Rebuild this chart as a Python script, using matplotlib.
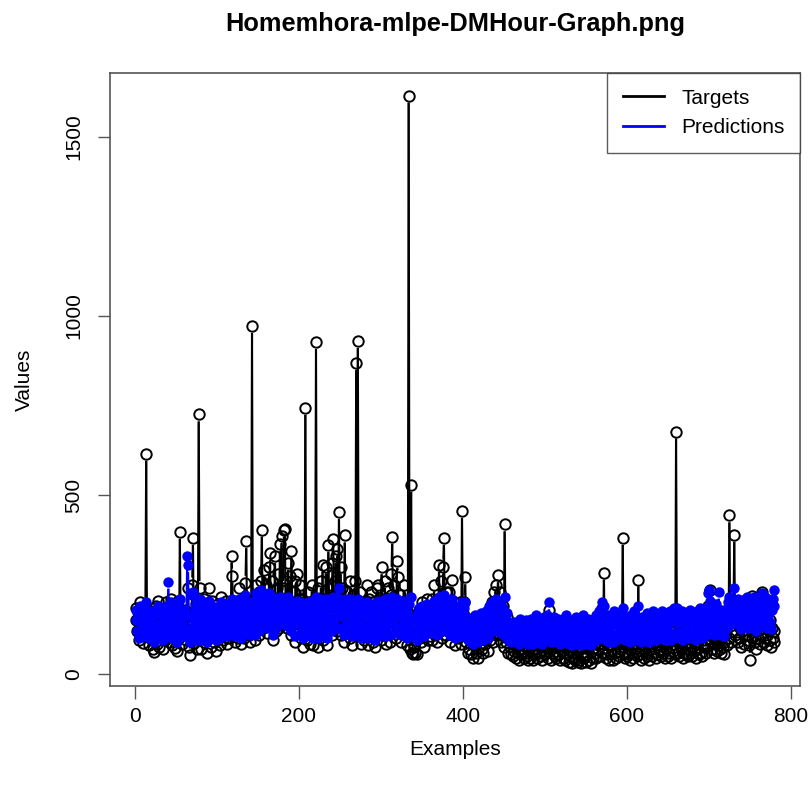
import numpy as np
import matplotlib
matplotlib.use("Agg")
import matplotlib.pyplot as plt
from matplotlib.collections import LineCollection
from matplotlib.lines import Line2D

plt.rcParams['font.family'] = ['Liberation Sans', 'DejaVu Sans']

# observed hourly values
targets = [
    150, 185, 120, 172, 95, 160, 200, 110, 145, 88, 178, 130, 190, 615, 105, 160, 82, 140, 175, 98,
    125, 70, 150, 62, 110, 190, 85, 205, 130, 75, 165, 100, 180, 120, 70, 150, 95, 200, 115, 140,
    170, 90, 135, 210, 80, 150, 115, 188, 72, 160, 65, 140, 205, 100, 397, 130, 175, 85, 150, 115,
    180, 95, 160, 120, 240, 75, 52, 150, 100, 250, 380, 88, 170, 120, 195, 70, 145, 725, 240, 110,
    70, 165, 120, 210, 90, 185, 140, 60, 160, 100, 240, 130, 75, 205, 110, 170, 90, 150, 65, 130,
    195, 105, 160, 80, 215, 130, 175, 95, 150, 120, 205, 85, 180, 140, 100, 170, 125, 331, 275, 110,
    160, 90, 200, 130, 175, 100, 240, 150, 85, 190, 120, 210, 100, 160, 255, 371, 130, 200, 110, 170,
    90, 175, 972, 120, 210, 155, 95, 250, 140, 185, 110, 230, 150, 260, 403, 130, 200, 290, 160, 250,
    115, 220, 175, 300, 338, 140, 260, 95, 210, 170, 329, 120, 240, 180, 280, 130, 362, 200, 385, 150,
    240, 403, 405, 190, 260, 130, 310, 170, 275, 110, 345, 200, 150, 230, 90, 260, 180, 280, 140, 210,
    160, 250, 100, 210, 75, 200, 140, 743, 180, 95, 230, 130, 200, 85, 160, 250, 80, 170, 120, 210,
    927, 140, 240, 75, 180, 110, 260, 150, 305, 95, 210, 170, 300, 120, 80, 360, 200, 140, 250, 110,
    310, 377, 150, 260, 330, 120, 350, 200, 452, 170, 300, 110, 240, 180, 90, 387, 200, 140, 230, 120,
    200, 100, 260, 150, 80, 220, 130, 260, 170, 868, 110, 930, 190, 140, 230, 85, 160, 120, 200, 95,
    180, 120, 250, 80, 170, 210, 110, 230, 140, 90, 200, 130, 75, 160, 240, 110, 250, 150, 200, 95,
    298, 150, 210, 110, 260, 85, 200, 130, 240, 160, 90, 220, 280, 383, 130, 250, 170, 100, 200, 315,
    270, 120, 220, 160, 90, 200, 130, 250, 110, 190, 150, 80, 170, 1615, 120, 70, 528, 60, 55, 75,
    80, 60, 120, 55, 150, 100, 180, 130, 90, 200, 110, 160, 75, 170, 120, 210, 95, 150, 190, 105,
    160, 95, 210, 130, 250, 110, 170, 90, 200, 140, 305, 120, 260, 180, 100, 300, 380, 150, 230, 110,
    190, 120, 230, 90, 170, 140, 263, 110, 200, 80, 150, 120, 180, 100, 160, 130, 200, 85, 455, 170,
    120, 200, 270, 90, 150, 60, 110, 70, 130, 55, 95, 45, 120, 80, 140, 60, 100, 45, 130, 75,
    110, 150, 70, 130, 60, 120, 85, 160, 100, 140, 65, 180, 95, 150, 120, 200, 90, 230, 140, 250,
    110, 200, 276, 130, 230, 90, 170, 110, 190, 75, 418, 130, 90, 160, 60, 120, 75, 100, 55, 90,
    50, 110, 65, 90, 45, 100, 60, 85, 40, 120, 55, 70, 95, 45, 80, 60, 105, 50, 75, 40,
    95, 45, 110, 60, 80, 40, 100, 55, 120, 70, 45, 90, 60, 105, 50, 85, 40, 75, 110, 55,
    90, 60, 120, 45, 178, 70, 100, 40, 85, 60, 110, 50, 95, 45, 75, 100, 55, 80, 40, 90,
    65, 100, 45, 85, 40, 110, 55, 75, 35, 90, 50, 70, 30, 95, 45, 80, 40, 105, 60, 35,
    85, 40, 70, 30, 95, 50, 110, 45, 80, 35, 75, 55, 100, 40, 85, 30, 65, 90, 45, 100,
    60, 110, 45, 90, 70, 120, 50, 130, 85, 160, 60, 283, 100, 45, 90, 55, 110, 40, 80, 105,
    55, 95, 40, 120, 60, 100, 45, 85, 65, 110, 50, 90, 70, 115, 380, 60, 95, 45, 80, 50,
    100, 55, 90, 40, 110, 60, 85, 45, 120, 70, 95, 50, 100, 264, 55, 90, 40, 105, 65, 85,
    45, 100, 60, 115, 50, 85, 40, 110, 70, 95, 50, 120, 60, 90, 45, 80, 100, 55, 110, 65,
    95, 50, 120, 60, 85, 45, 110, 70, 100, 50, 90, 60, 120, 45, 105, 65, 95, 130, 55, 677,
    150, 60, 110, 50, 95, 70, 120, 45, 100, 60, 85, 55, 115, 50, 90, 70, 125, 60, 95, 50,
    110, 65, 100, 45, 120, 70, 90, 55, 130, 60, 105, 50, 115, 75, 95, 60, 130, 80, 190, 110,
    235, 90, 130, 70, 110, 60, 120, 85, 140, 65, 105, 95, 70, 100, 60, 125, 75, 90, 55, 110,
    130, 80, 180, 100, 443, 150, 90, 200, 120, 170, 389, 110, 200, 140, 90, 160, 100, 130, 75, 150,
    120, 190, 85, 160, 110, 200, 95, 150, 80, 40, 140, 100, 219, 130, 180, 90, 120, 70, 150, 100,
    160, 85, 200, 110, 228, 130, 90, 170, 100, 140, 80, 200, 120, 95, 150, 75, 130, 100, 90, 120,
]

# model output for the same hours
predictions = [
    150, 180, 120, 165, 100, 150, 190, 125, 160, 105, 175, 135, 185, 200, 120, 165, 100, 145, 175, 110,
    140, 95, 165, 90, 130, 180, 105, 190, 140, 100, 170, 120, 175, 135, 95, 160, 115, 190, 130, 150,
    258, 110, 150, 200, 100, 160, 130, 185, 95, 165, 90, 150, 195, 115, 210, 140, 175, 105, 160, 125,
    180, 110, 165, 331, 305, 100, 90, 160, 120, 220, 230, 105, 170, 135, 190, 95, 150, 200, 210, 125,
    95, 170, 130, 200, 105, 180, 145, 90, 165, 115, 205, 140, 100, 190, 125, 170, 105, 155, 95, 140,
    185, 120, 165, 100, 200, 140, 175, 110, 155, 130, 195, 105, 180, 145, 115, 170, 135, 210, 185, 125,
    165, 105, 195, 140, 175, 115, 210, 155, 100, 185, 130, 200, 115, 165, 220, 205, 140, 190, 120, 170,
    110, 175, 200, 135, 200, 160, 110, 225, 145, 180, 120, 210, 155, 235, 190, 140, 195, 220, 165, 200,
    130, 205, 170, 225, 190, 145, 215, 110, 195, 165, 175, 130, 210, 170, 200, 140, 215, 185, 205, 155,
    195, 210, 185, 170, 200, 135, 215, 160, 190, 120, 200, 175, 145, 195, 105, 185, 165, 205, 140, 190,
    155, 200, 115, 185, 100, 180, 140, 195, 170, 110, 200, 135, 180, 105, 160, 205, 100, 165, 130, 190,
    215, 140, 200, 100, 170, 125, 210, 150, 190, 110, 185, 160, 210, 130, 100, 200, 175, 140, 205, 120,
    200, 215, 150, 200, 210, 130, 215, 175, 240, 165, 200, 125, 195, 170, 110, 210, 180, 140, 195, 130,
    185, 115, 210, 150, 105, 190, 135, 205, 165, 200, 120, 210, 175, 140, 195, 100, 160, 125, 185, 110,
    170, 125, 200, 100, 165, 190, 120, 195, 140, 105, 185, 135, 95, 160, 200, 120, 205, 150, 185, 110,
    200, 150, 190, 120, 210, 105, 185, 135, 200, 160, 110, 190, 205, 215, 140, 200, 165, 115, 185, 210,
    200, 130, 190, 160, 110, 185, 135, 205, 120, 175, 150, 100, 165, 195, 135, 110, 215, 105, 110, 120,
    120, 100, 150, 95, 170, 125, 185, 140, 110, 190, 130, 165, 105, 175, 135, 195, 115, 155, 180, 125,
    165, 115, 195, 140, 205, 125, 170, 110, 190, 145, 215, 130, 200, 170, 120, 210, 220, 155, 195, 125,
    185, 130, 200, 110, 170, 145, 210, 125, 190, 100, 160, 130, 180, 115, 165, 140, 190, 105, 200, 165,
    130, 185, 200, 110, 160, 95, 140, 105, 155, 90, 130, 85, 150, 110, 165, 95, 135, 90, 155, 115,
    140, 170, 105, 155, 95, 150, 115, 175, 130, 165, 100, 190, 125, 170, 145, 200, 120, 205, 160, 210,
    135, 195, 205, 145, 200, 115, 175, 135, 185, 110, 215, 145, 115, 170, 95, 145, 105, 135, 90, 125,
    95, 145, 105, 130, 90, 140, 100, 125, 85, 155, 100, 115, 140, 90, 125, 105, 150, 95, 120, 85,
    140, 90, 155, 105, 125, 85, 150, 100, 165, 115, 90, 140, 105, 155, 95, 130, 85, 120, 160, 100,
    140, 105, 165, 95, 200, 115, 150, 90, 135, 110, 160, 100, 145, 90, 125, 155, 100, 130, 85, 140,
    115, 155, 95, 140, 90, 165, 105, 130, 85, 150, 100, 125, 80, 150, 95, 135, 90, 160, 110, 85,
    140, 90, 125, 80, 150, 100, 165, 95, 135, 85, 130, 105, 155, 90, 140, 80, 120, 150, 95, 155,
    110, 165, 95, 150, 120, 175, 100, 185, 135, 200, 110, 190, 150, 95, 145, 105, 165, 90, 135, 160,
    105, 150, 90, 175, 110, 155, 95, 140, 115, 165, 100, 145, 120, 170, 185, 110, 150, 95, 135, 100,
    155, 105, 145, 90, 165, 110, 140, 95, 175, 120, 150, 100, 155, 190, 105, 145, 90, 160, 115, 140,
    95, 155, 110, 170, 100, 140, 90, 165, 120, 150, 100, 175, 110, 145, 95, 135, 155, 105, 165, 115,
    150, 100, 175, 110, 140, 95, 165, 120, 155, 100, 145, 110, 175, 95, 160, 115, 150, 185, 105, 180,
    185, 110, 165, 100, 150, 120, 175, 95, 155, 110, 140, 105, 170, 100, 145, 120, 180, 110, 150, 100,
    165, 115, 155, 95, 175, 120, 145, 105, 185, 110, 160, 100, 170, 125, 150, 110, 185, 130, 225, 235,
    205, 140, 185, 120, 165, 110, 175, 135, 195, 115, 160, 230, 120, 155, 110, 180, 125, 145, 105, 165,
    180, 130, 200, 150, 215, 195, 140, 200, 170, 210, 240, 160, 200, 190, 140, 210, 150, 180, 125, 200,
    170, 205, 135, 210, 160, 215, 145, 200, 130, 175, 190, 150, 195, 180, 215, 140, 170, 120, 200, 150,
    210, 135, 215, 160, 225, 180, 140, 215, 150, 190, 130, 210, 170, 145, 200, 125, 180, 210, 235, 190,
]

examples = np.arange(1, len(targets) + 1)


def gapped_segments(ax, x, y, gap):
    # segments joining consecutive points, cut back by `gap` pixels at each end
    pts = ax.transData.transform(np.column_stack([x, y]))
    segs = []
    for p0, p1 in zip(pts[:-1], pts[1:]):
        d = p1 - p0
        n = np.hypot(*d)
        if n <= 2 * gap:
            continue
        u = d / n
        a, b = p0 + u * gap, p1 - u * gap
        segs.append(ax.transData.inverted().transform(np.array([a, b])))
    return segs


fig = plt.figure(figsize=(8.1, 7.9), dpi=100)
ax = fig.add_axes([0.1358, 0.1316, 0.8519, 0.776])

span_x = examples[-1] - examples[0]
ax.set_xlim(examples[0] - 0.04 * span_x, examples[-1] + 0.04 * span_x)
lo, hi = min(min(targets), min(predictions)), max(max(targets), max(predictions))
ax.set_ylim(lo - 0.04 * (hi - lo), hi + 0.04 * (hi - lo))

ax.add_collection(LineCollection(gapped_segments(ax, examples, targets, 7),
                                 colors='black', linewidths=1.5))
ax.plot(examples, targets, ls='none', marker='o', ms=7.5,
        mfc='none', mec='black', mew=1.4)
ax.add_collection(LineCollection(gapped_segments(ax, examples, predictions, 7),
                                 colors='blue', linewidths=1.5))
ax.plot(examples, predictions, ls='none', marker='o', ms=7.5,
        mfc='blue', mec='blue', mew=0)

ax.set_xticks([0, 200, 400, 600, 800])
ax.set_yticks([0, 500, 1000, 1500])
ax.tick_params(labelsize=15, length=9, width=1, color='#555555')
ax.tick_params(axis='x', pad=6)
ax.tick_params(axis='y', pad=10)
plt.setp(ax.get_yticklabels(), rotation=90, va='center')
for s in ax.spines.values():
    s.set_color('#555555')
    s.set_linewidth(1.2)

ax.set_xlabel('Examples', fontsize=15, labelpad=10)
ax.set_ylabel('Values', fontsize=15, labelpad=22)
ax.set_title('Homemhora-mlpe-DMHour-Graph.png', fontsize=18.3, fontweight='bold', pad=30)

handles = [Line2D([], [], color='black', lw=2), Line2D([], [], color='blue', lw=2)]
leg = ax.legend(handles, ['Targets', 'Predictions'], loc='upper right', fontsize=15,
                frameon=True, fancybox=False, borderaxespad=0, handlelength=2.0,
                handletextpad=0.8, borderpad=0.75, labelspacing=0.5)
leg.get_frame().set_edgecolor('#333333')
leg.get_frame().set_linewidth(1.0)

fig.savefig('out.png', dpi=100)
